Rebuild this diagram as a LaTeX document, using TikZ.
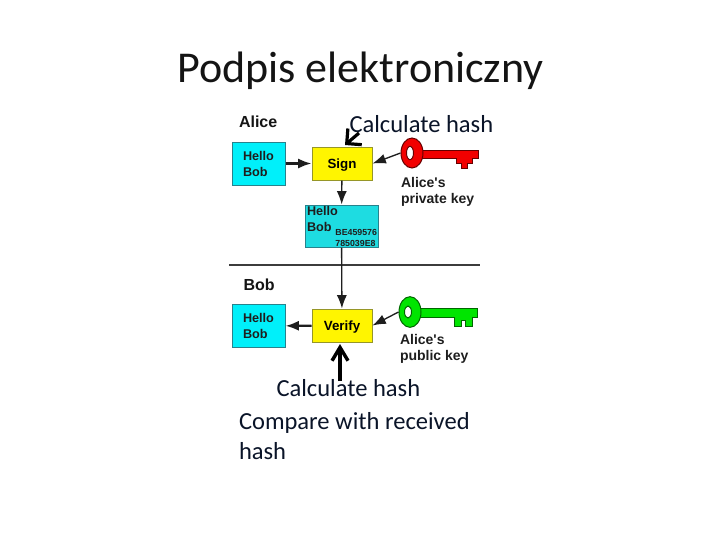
\documentclass[tikz,border=0pt]{standalone}
\usepackage{fontspec}
\setmainfont{Carlito}
\newfontfamily\labelfont{Liberation Sans}
\usetikzlibrary{arrows.meta,shapes.geometric}

\tikzset{every picture/.style={line width=0.75pt}}
\tikzset{
  msgbox/.style={draw={rgb,255:red,40;green,130;blue,140},fill={rgb,255:red,0;green,240;blue,250},minimum width=39.75pt,minimum height=32.25pt,inner sep=0pt},
  opbox/.style={draw={rgb,255:red,150;green,150;blue,40},fill={rgb,255:red,255;green,245;blue,0},minimum width=45pt,minimum height=24.75pt,inner sep=0pt,text depth=0pt,font=\labelfont\bfseries\fontsize{10}{11}\selectfont},
  boldtext/.style={inner sep=0pt,align=left,font=\labelfont\bfseries\fontsize{9.5}{12}\selectfont,text={rgb,255:red,30;green,30;blue,30}},
  keytext/.style={boldtext,anchor=north west,font=\labelfont\bfseries\fontsize{10.5}{12}\selectfont},
  heading/.style={inner sep=0pt,anchor=west,font=\labelfont\bfseries\fontsize{12}{13}\selectfont,text={rgb,255:red,20;green,20;blue,20}},
  slidetext/.style={inner sep=0pt,anchor=west,font=\fontsize{18.4}{20}\selectfont,text={rgb,255:red,10;green,20;blue,40}},
  flowto/.style={-{Latex[length=10pt,width=7.5pt]},line width=1pt,draw={rgb,255:red,30;green,30;blue,30}},
  flowthick/.style={flowto,line width=1.6pt},
  handarrow/.style={-{Straight Barb[length=8pt,width=16pt,line width=2.4pt]},line width=2.4pt,black},
  handup/.style={-{Straight Barb[length=10pt,width=12pt,line width=2.6pt]},line width=2.6pt,black},
}

\begin{document}
\begin{tikzpicture}[x=0.75pt,y=0.75pt,yscale=-1,xscale=1]

\useasboundingbox (0,0) rectangle (720,540);
\fill [white] (0,0) rectangle (720,540);

\node (title) [inner sep=0pt,font=\fontsize{33}{36}\selectfont,text={rgb,255:red,20;green,20;blue,20}] at (360.5,70.5) {Podpis elektroniczny};

% Alice
\node (alice) [heading] at (238.5,122) {Alice};
\node (calchashone) [slidetext] at (349,124.5) {Calculate hash};
\node (hellotop) [msgbox] at (258.5,163.5) {};
\node [boldtext,anchor=west] at (242.5,163.5) {Hello\\Bob};
\node (sign) [opbox] at (342,163.5) {Sign};
\node (signed) [msgbox,fill={rgb,255:red,30;green,220;blue,225},minimum width=54.75pt,minimum height=31.5pt] at (341.5,226) {};
\node [boldtext,anchor=north west,font=\labelfont\bfseries\fontsize{9.5}{12.5}\selectfont] at (306.5,205.5) {Hello\\Bob};
\node (digest) [boldtext,anchor=south east,align=left,font=\labelfont\bfseries\fontsize{6.6}{8.5}\selectfont] at (377.5,247.5) {BE459576\\785039E8};
\node (privlabel) [keytext] at (400.5,177) {Alice's\\private key};

% red key
\fill [red!95!black,draw=black!60!red,line width=0.4pt] (420,150) -- (478,150) -- (478,158) -- (472,158) -- (472,163) -- (467,163) -- (467,168) -- (461,168) -- (461,163) -- (456,163) -- (456,158) -- (420,158) -- cycle;
\node (redkey) [ellipse,draw=black!60!red,fill=red!95!black,minimum width=16.5pt,minimum height=22.5pt,inner sep=0pt] at (412,153) {};
\node [ellipse,draw=black!60!red,fill=white,minimum width=5.25pt,minimum height=10pt,inner sep=0pt] at (410,153) {};

% separator
\coordinate (ruleleft) at (229,265);
\coordinate (ruleright) at (480,265);
\draw [line width=1.1pt,draw={rgb,255:red,60;green,60;blue,60}] (ruleleft) -- (ruleright);

% Bob
\node (bob) [heading] at (243,285) {Bob};
\node (hellobottom) [msgbox] at (258.5,326) {};
\node [boldtext,anchor=west] at (242.5,326) {Hello\\Bob};
\node (verify) [opbox] at (342,325.5) {Verify};
\node (publabel) [keytext] at (399.5,334) {Alice's\\public key};

% green key
\fill [green!90!black,draw=green!40!black,line width=0.4pt] (416,308) -- (477,308) -- (477,317) -- (472,317) -- (472,326) -- (465,326) -- (465,320) -- (461,320) -- (461,326) -- (454,326) -- (454,317) -- (416,317) -- cycle;
\node (greenkey) [ellipse,draw=green!40!black,fill=green!90!black,minimum width=16.5pt,minimum height=23pt,inner sep=0pt] at (410,312) {};
\node [ellipse,draw=green!40!black,fill=white,minimum width=5.25pt,minimum height=9pt,inner sep=0pt] at (408,312) {};

% bottom text
\node (calchashtwo) [slidetext] at (276,388.5) {Calculate hash};
\node (compare) [slidetext,align=left,anchor=north west,font=\fontsize{18.4}{22.5}\selectfont] at (238.5,412) {Compare with received\\hash};

% connectors
\coordinate (handone) at (359,133);
\coordinate (handonetip) at (345,145);
\coordinate (handtwo) at (340,381);
\coordinate (handtwotip) at (340,344);
\draw [flowthick] (hellotop) -- (sign);
\draw [flowto] (redkey.west) -- (sign.east);
\draw [flowto] (sign) -- (signed);
\draw [flowto] (signed) -- (verify);
\draw [flowthick] (verify) -- (hellobottom);
\draw [flowto] (greenkey.west) -- (verify.east);
\draw [handarrow] (handone) -- (handonetip);
\draw [handup] (handtwo) -- (handtwotip);

\end{tikzpicture}
\end{document}
